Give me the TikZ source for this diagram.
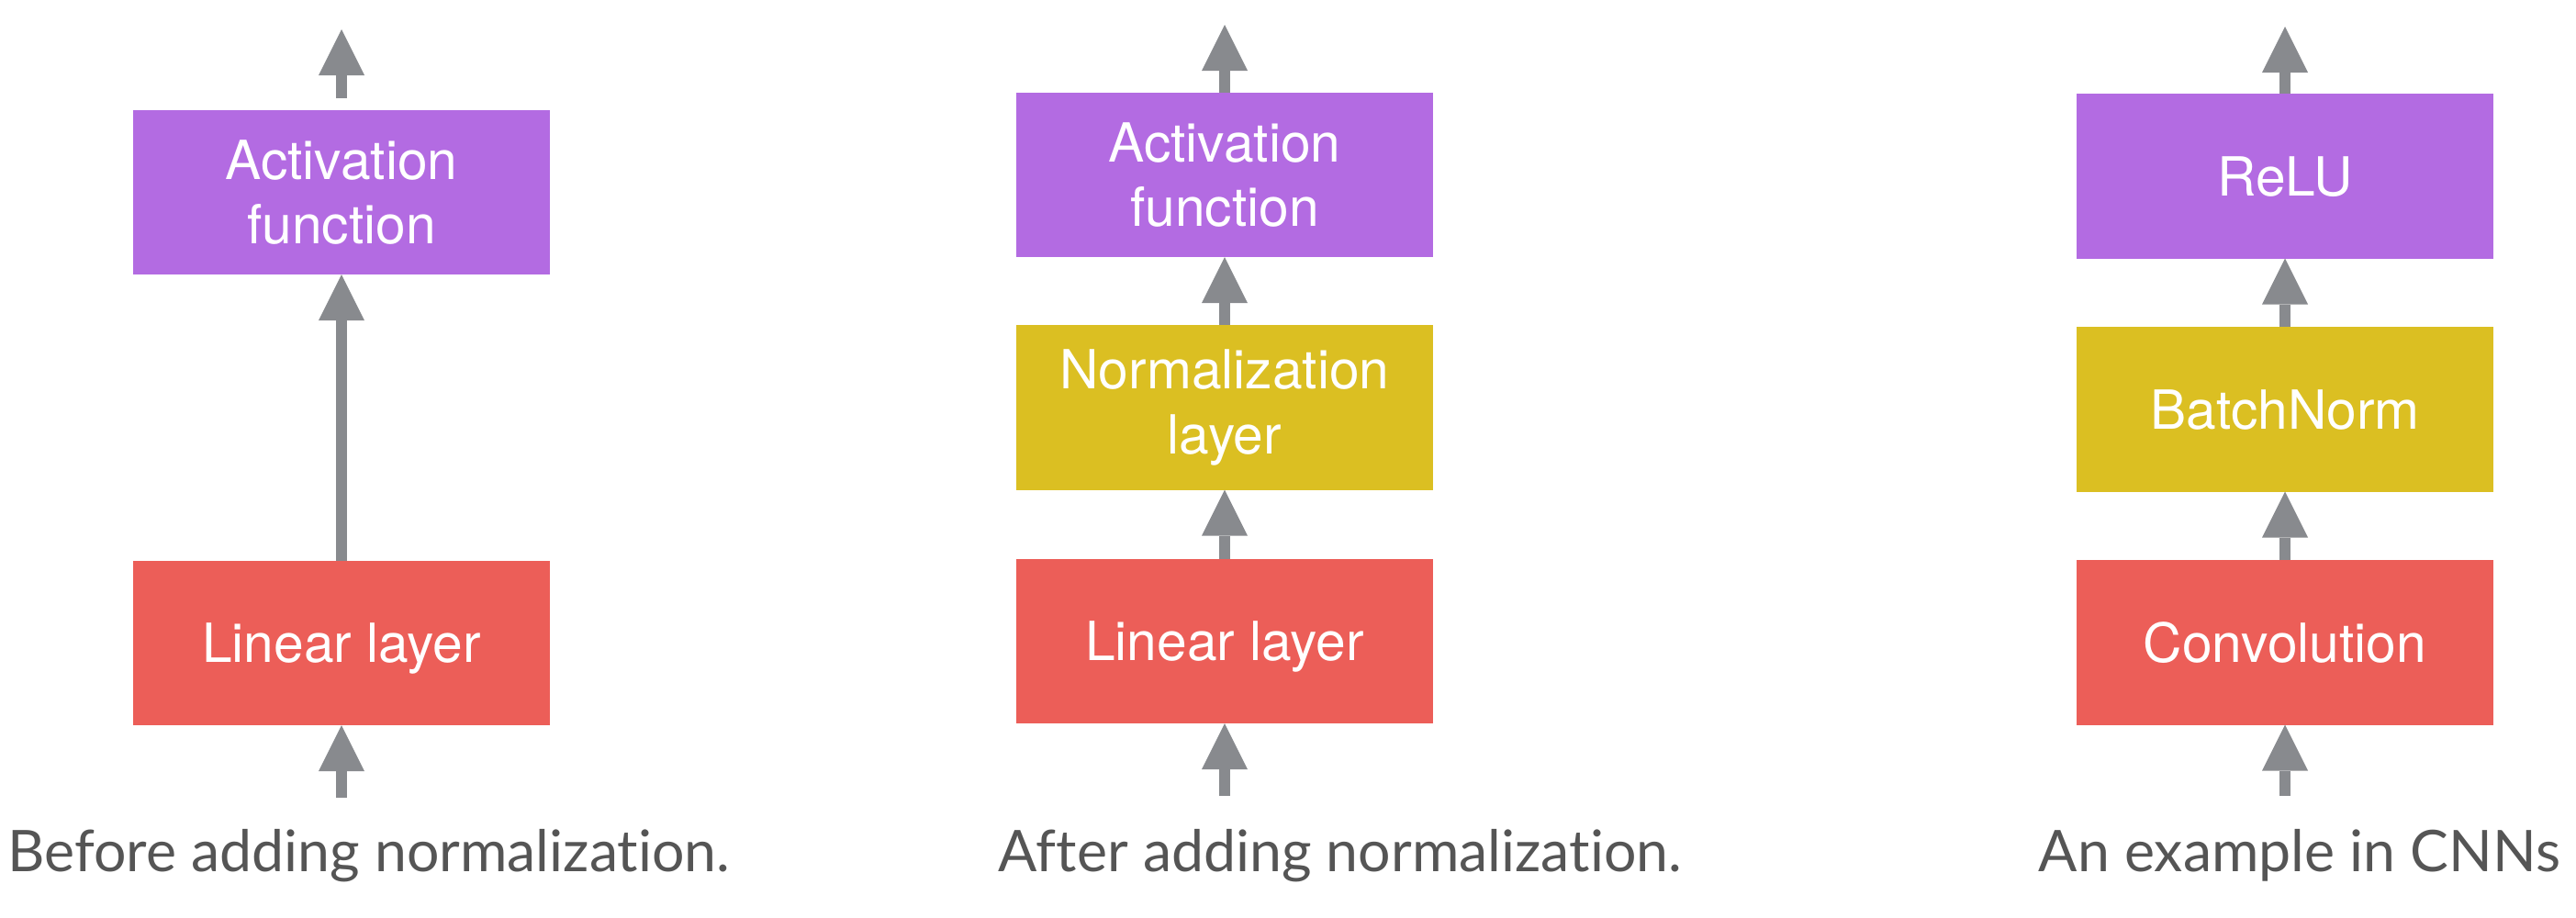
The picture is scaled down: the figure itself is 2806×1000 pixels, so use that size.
\documentclass[tikz,border=0pt]{standalone}
\usepackage{fontspec}
\setmainfont{TeX Gyre Heros}
\newfontfamily\capfont[Ligatures={NoCommon,NoRare}]{Lato}
\usetikzlibrary{arrows.meta}
\definecolor{actpurple}{HTML}{B36BE2}
\definecolor{normyellow}{HTML}{DBBF22}
\definecolor{linred}{HTML}{EC5E58}
\definecolor{arrowgray}{HTML}{888A8E}
\definecolor{capgray}{HTML}{555555}
\tikzset{
  layerbox/.style={draw=none, minimum width=4.54cm, minimum height=1.79cm,
    inner sep=0pt, outer sep=0pt, align=center, text=white,
    font=\fontsize{16.7}{20}\selectfont},
  oneline/.style={text depth=0pt},
  actbox/.style={layerbox, fill=actpurple},
  normbox/.style={layerbox, fill=normyellow},
  linbox/.style={layerbox, fill=linred},
  flow/.style={draw=arrowgray, line width=0.125cm, line cap=butt,
    -{Triangle[width=0.5cm,length=0.5cm,line width=0pt]}},
  caption/.style={anchor=base, inner sep=0pt, text=capgray,
    font=\capfont\fontsize{17.8}{21}\selectfont}
}
\begin{document}
\begin{tikzpicture}[x=0.01cm, y=-0.01cm]
\useasboundingbox (0,0) rectangle (2806,1000);

% Panel 1
\node[actbox] (a1) at (372,209.5) {Activation\\function};
\node[linbox, oneline] (l1) at (372,700.5) {Linear layer};
\coordinate (in1) at (372,869);
\coordinate (o1s) at (372,107);
\coordinate (o1) at (372,32);
\draw[flow] (in1) -- (l1.south);
\draw[flow] (l1.north) -- (a1.south);
\draw[flow] (o1s) -- (o1);
\node[caption] (c1) at (402,949) {Before adding normalization.};

% Panel 2
\node[actbox] (a2) at (1334,190.5) {Activation\\function};
\node[normbox] (n2) at (1334,444) {Normalization\\layer};
\node[linbox, oneline] (l2) at (1334,698.5) {Linear layer};
\coordinate (in2) at (1334,867);
\coordinate (o2) at (1334,27);
\draw[flow] (in2) -- (l2.south);
\draw[flow] (l2.north) -- (n2.south);
\draw[flow] (n2.north) -- (a2.south);
\draw[flow] (a2.north) -- (o2);
\node[caption] (c2) at (1460,949) {After adding normalization.};

% Panel 3
\node[actbox, oneline] (a3) at (2489,192) {ReLU};
\node[normbox, oneline] (n3) at (2489,446) {BatchNorm};
\node[linbox, oneline] (l3) at (2489,700) {Convolution};
\coordinate (in3) at (2489,867);
\coordinate (o3) at (2489,29);
\draw[flow] (in3) -- (l3.south);
\draw[flow] (l3.north) -- (n3.south);
\draw[flow] (n3.north) -- (a3.south);
\draw[flow] (a3.north) -- (o3);
\node[caption] (c3) at (2505,949) {An example in CNNs};
\end{tikzpicture}
\end{document}
